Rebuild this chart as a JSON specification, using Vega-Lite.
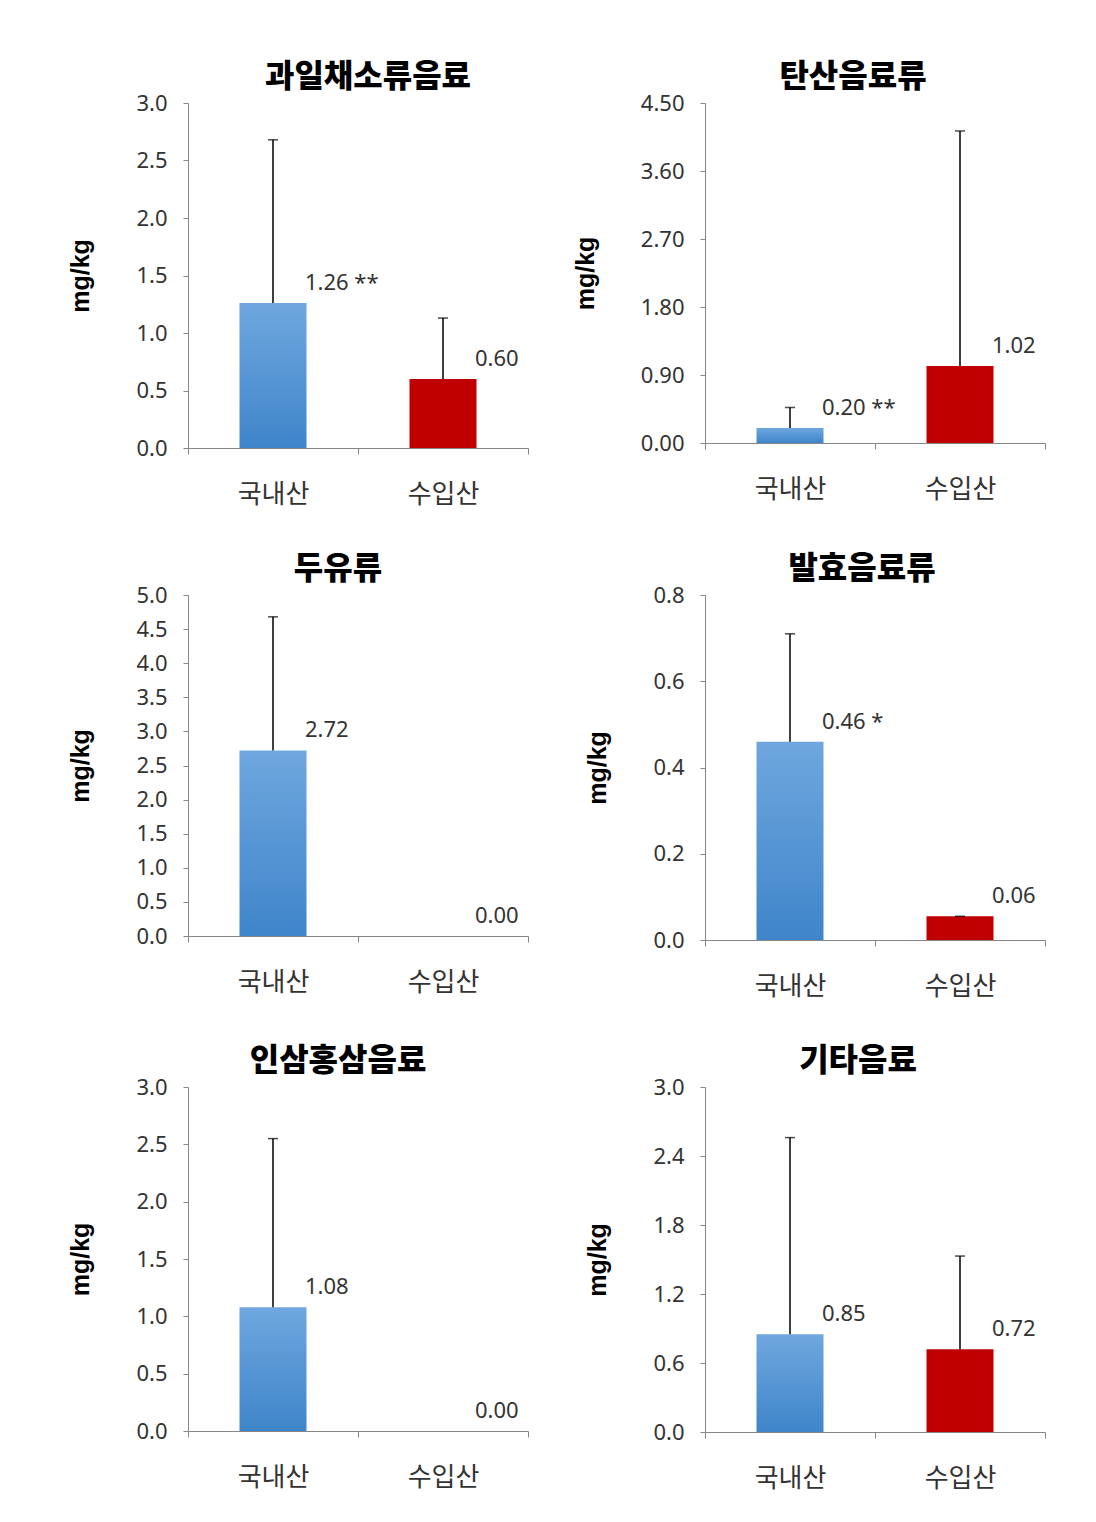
{
  "$schema": "https://vega.github.io/schema/vega-lite/v6.json",
  "padding": {"left": 68, "top": 61, "right": 5, "bottom": 5},
  "background": "white",
  "datasets": {
    "beverages": [
      {"panel": "과일채소류음료", "origin": "국내산", "mean": 1.26, "upper": 2.68, "label": "1.26 **"},
      {"panel": "과일채소류음료", "origin": "수입산", "mean": 0.60, "upper": 1.13, "label": "0.60"},
      {"panel": "탄산음료류", "origin": "국내산", "mean": 0.20, "upper": 0.47, "label": "0.20 **"},
      {"panel": "탄산음료류", "origin": "수입산", "mean": 1.02, "upper": 4.13, "label": "1.02"},
      {"panel": "두유류", "origin": "국내산", "mean": 2.72, "upper": 4.68, "label": "2.72"},
      {"panel": "두유류", "origin": "수입산", "mean": 0.0, "upper": null, "label": "0.00"},
      {"panel": "발효음료류", "origin": "국내산", "mean": 0.46, "upper": 0.71, "label": "0.46 *"},
      {"panel": "발효음료류", "origin": "수입산", "mean": 0.055, "upper": 0.055, "label": "0.06"},
      {"panel": "인삼홍삼음료", "origin": "국내산", "mean": 1.08, "upper": 2.55, "label": "1.08"},
      {"panel": "인삼홍삼음료", "origin": "수입산", "mean": 0.0, "upper": null, "label": "0.00"},
      {"panel": "기타음료", "origin": "국내산", "mean": 0.85, "upper": 2.56, "label": "0.85"},
      {"panel": "기타음료", "origin": "수입산", "mean": 0.72, "upper": 1.53, "label": "0.72"}
    ]
  },
  "data": {"name": "beverages"},
  "columns": 2,
  "spacing": {"row": 46, "column": 44},
  "concat": [
    {
      "title": {"text": "과일채소류음료", "dx": 10},
      "width": 340, "height": 345,
      "transform": [{"filter": "datum.panel === '과일채소류음료'"}],
      "encoding": {"x": {"field": "origin", "type": "nominal", "sort": ["국내산", "수입산"], "scale": {"paddingInner": 0, "paddingOuter": 0}, "axis": {"title": null}}},
      "layer": [
        {"transform": [{"filter": "datum.origin === '국내산'"}], "mark": {"type": "bar", "size": 67, "color": {"gradient": "linear", "x1": 0, "y1": 0, "x2": 0, "y2": 1, "stops": [{"offset": 0, "color": "#6FA7DE"}, {"offset": 1, "color": "#3F85CA"}]}},
         "encoding": {"y": {"field": "mean", "type": "quantitative", "scale": {"domain": [0, 3], "nice": false}, "axis": {"title": "mg/kg", "values": [0, 0.5, 1, 1.5, 2, 2.5, 3], "tickCount": 20, "format": ".1f", "labelOverlap": false}}}},
        {"transform": [{"filter": "datum.origin === '수입산'"}], "mark": {"type": "bar", "size": 67, "color": "#C00000"},
         "encoding": {"y": {"field": "mean", "type": "quantitative", "scale": {"domain": [0, 3], "nice": false}}}},
        {"transform": [{"filter": "isValid(datum.upper)"}], "mark": {"type": "rule", "color": "black", "strokeWidth": 1.5},
         "encoding": {"y": {"field": "mean", "type": "quantitative", "scale": {"domain": [0, 3], "nice": false}}, "y2": {"field": "upper"}}},
        {"transform": [{"filter": "isValid(datum.upper)"}], "mark": {"type": "tick", "color": "black", "size": 10, "thickness": 1.5},
         "encoding": {"y": {"field": "upper", "type": "quantitative", "scale": {"domain": [0, 3], "nice": false}}}},
        {"mark": {"type": "text", "align": "left", "baseline": "middle", "dx": 32, "dy": -20, "fontSize": 22, "color": "#333333"},
         "encoding": {"y": {"field": "mean", "type": "quantitative", "scale": {"domain": [0, 3], "nice": false}}, "text": {"field": "label"}}}
      ]
    },
    {
      "title": {"text": "탄산음료류", "dx": -22},
      "width": 340, "height": 340,
      "transform": [{"filter": "datum.panel === '탄산음료류'"}],
      "encoding": {"x": {"field": "origin", "type": "nominal", "sort": ["국내산", "수입산"], "scale": {"paddingInner": 0, "paddingOuter": 0}, "axis": {"title": null}}},
      "layer": [
        {"transform": [{"filter": "datum.origin === '국내산'"}], "mark": {"type": "bar", "size": 67, "color": {"gradient": "linear", "x1": 0, "y1": 0, "x2": 0, "y2": 1, "stops": [{"offset": 0, "color": "#6FA7DE"}, {"offset": 1, "color": "#3F85CA"}]}},
         "encoding": {"y": {"field": "mean", "type": "quantitative", "scale": {"domain": [0, 4.5], "nice": false}, "axis": {"title": "mg/kg", "values": [0, 0.9, 1.8, 2.7, 3.6, 4.5], "tickCount": 20, "format": ".2f", "labelOverlap": false}}}},
        {"transform": [{"filter": "datum.origin === '수입산'"}], "mark": {"type": "bar", "size": 67, "color": "#C00000"},
         "encoding": {"y": {"field": "mean", "type": "quantitative", "scale": {"domain": [0, 4.5], "nice": false}}}},
        {"transform": [{"filter": "isValid(datum.upper)"}], "mark": {"type": "rule", "color": "black", "strokeWidth": 1.5},
         "encoding": {"y": {"field": "mean", "type": "quantitative", "scale": {"domain": [0, 4.5], "nice": false}}, "y2": {"field": "upper"}}},
        {"transform": [{"filter": "isValid(datum.upper)"}], "mark": {"type": "tick", "color": "black", "size": 10, "thickness": 1.5},
         "encoding": {"y": {"field": "upper", "type": "quantitative", "scale": {"domain": [0, 4.5], "nice": false}}}},
        {"mark": {"type": "text", "align": "left", "baseline": "middle", "dx": 32, "dy": -20, "fontSize": 22, "color": "#333333"},
         "encoding": {"y": {"field": "mean", "type": "quantitative", "scale": {"domain": [0, 4.5], "nice": false}}, "text": {"field": "label"}}}
      ]
    },
    {
      "title": {"text": "두유류", "dx": -20},
      "width": 340, "height": 341,
      "transform": [{"filter": "datum.panel === '두유류'"}],
      "encoding": {"x": {"field": "origin", "type": "nominal", "sort": ["국내산", "수입산"], "scale": {"paddingInner": 0, "paddingOuter": 0}, "axis": {"title": null}}},
      "layer": [
        {"transform": [{"filter": "datum.origin === '국내산'"}], "mark": {"type": "bar", "size": 67, "color": {"gradient": "linear", "x1": 0, "y1": 0, "x2": 0, "y2": 1, "stops": [{"offset": 0, "color": "#6FA7DE"}, {"offset": 1, "color": "#3F85CA"}]}},
         "encoding": {"y": {"field": "mean", "type": "quantitative", "scale": {"domain": [0, 5], "nice": false}, "axis": {"title": "mg/kg", "values": [0, 0.5, 1, 1.5, 2, 2.5, 3, 3.5, 4, 4.5, 5], "tickCount": 20, "format": ".1f", "labelOverlap": false}}}},
        {"transform": [{"filter": "datum.origin === '수입산'"}], "mark": {"type": "bar", "size": 67, "color": "#C00000"},
         "encoding": {"y": {"field": "mean", "type": "quantitative", "scale": {"domain": [0, 5], "nice": false}}}},
        {"transform": [{"filter": "isValid(datum.upper)"}], "mark": {"type": "rule", "color": "black", "strokeWidth": 1.5},
         "encoding": {"y": {"field": "mean", "type": "quantitative", "scale": {"domain": [0, 5], "nice": false}}, "y2": {"field": "upper"}}},
        {"transform": [{"filter": "isValid(datum.upper)"}], "mark": {"type": "tick", "color": "black", "size": 10, "thickness": 1.5},
         "encoding": {"y": {"field": "upper", "type": "quantitative", "scale": {"domain": [0, 5], "nice": false}}}},
        {"mark": {"type": "text", "align": "left", "baseline": "middle", "dx": 32, "dy": -20, "fontSize": 22, "color": "#333333"},
         "encoding": {"y": {"field": "mean", "type": "quantitative", "scale": {"domain": [0, 5], "nice": false}}, "text": {"field": "label"}}}
      ]
    },
    {
      "title": {"text": "발효음료류", "dx": -13},
      "width": 340, "height": 345,
      "transform": [{"filter": "datum.panel === '발효음료류'"}],
      "encoding": {"x": {"field": "origin", "type": "nominal", "sort": ["국내산", "수입산"], "scale": {"paddingInner": 0, "paddingOuter": 0}, "axis": {"title": null}}},
      "layer": [
        {"transform": [{"filter": "datum.origin === '국내산'"}], "mark": {"type": "bar", "size": 67, "color": {"gradient": "linear", "x1": 0, "y1": 0, "x2": 0, "y2": 1, "stops": [{"offset": 0, "color": "#6FA7DE"}, {"offset": 1, "color": "#3F85CA"}]}},
         "encoding": {"y": {"field": "mean", "type": "quantitative", "scale": {"domain": [0, 0.8], "nice": false}, "axis": {"title": "mg/kg", "values": [0, 0.2, 0.4, 0.6, 0.8], "tickCount": 20, "format": ".1f", "labelOverlap": false}}}},
        {"transform": [{"filter": "datum.origin === '수입산'"}], "mark": {"type": "bar", "size": 67, "color": "#C00000"},
         "encoding": {"y": {"field": "mean", "type": "quantitative", "scale": {"domain": [0, 0.8], "nice": false}}}},
        {"transform": [{"filter": "isValid(datum.upper)"}], "mark": {"type": "rule", "color": "black", "strokeWidth": 1.5},
         "encoding": {"y": {"field": "mean", "type": "quantitative", "scale": {"domain": [0, 0.8], "nice": false}}, "y2": {"field": "upper"}}},
        {"transform": [{"filter": "isValid(datum.upper)"}], "mark": {"type": "tick", "color": "black", "size": 10, "thickness": 1.5},
         "encoding": {"y": {"field": "upper", "type": "quantitative", "scale": {"domain": [0, 0.8], "nice": false}}}},
        {"mark": {"type": "text", "align": "left", "baseline": "middle", "dx": 32, "dy": -20, "fontSize": 22, "color": "#333333"},
         "encoding": {"y": {"field": "mean", "type": "quantitative", "scale": {"domain": [0, 0.8], "nice": false}}, "text": {"field": "label"}}}
      ]
    },
    {
      "title": {"text": "인삼홍삼음료", "dx": -20},
      "width": 340, "height": 344,
      "transform": [{"filter": "datum.panel === '인삼홍삼음료'"}],
      "encoding": {"x": {"field": "origin", "type": "nominal", "sort": ["국내산", "수입산"], "scale": {"paddingInner": 0, "paddingOuter": 0}, "axis": {"title": null}}},
      "layer": [
        {"transform": [{"filter": "datum.origin === '국내산'"}], "mark": {"type": "bar", "size": 67, "color": {"gradient": "linear", "x1": 0, "y1": 0, "x2": 0, "y2": 1, "stops": [{"offset": 0, "color": "#6FA7DE"}, {"offset": 1, "color": "#3F85CA"}]}},
         "encoding": {"y": {"field": "mean", "type": "quantitative", "scale": {"domain": [0, 3], "nice": false}, "axis": {"title": "mg/kg", "values": [0, 0.5, 1, 1.5, 2, 2.5, 3], "tickCount": 20, "format": ".1f", "labelOverlap": false}}}},
        {"transform": [{"filter": "datum.origin === '수입산'"}], "mark": {"type": "bar", "size": 67, "color": "#C00000"},
         "encoding": {"y": {"field": "mean", "type": "quantitative", "scale": {"domain": [0, 3], "nice": false}}}},
        {"transform": [{"filter": "isValid(datum.upper)"}], "mark": {"type": "rule", "color": "black", "strokeWidth": 1.5},
         "encoding": {"y": {"field": "mean", "type": "quantitative", "scale": {"domain": [0, 3], "nice": false}}, "y2": {"field": "upper"}}},
        {"transform": [{"filter": "isValid(datum.upper)"}], "mark": {"type": "tick", "color": "black", "size": 10, "thickness": 1.5},
         "encoding": {"y": {"field": "upper", "type": "quantitative", "scale": {"domain": [0, 3], "nice": false}}}},
        {"mark": {"type": "text", "align": "left", "baseline": "middle", "dx": 32, "dy": -20, "fontSize": 22, "color": "#333333"},
         "encoding": {"y": {"field": "mean", "type": "quantitative", "scale": {"domain": [0, 3], "nice": false}}, "text": {"field": "label"}}}
      ]
    },
    {
      "title": {"text": "기타음료", "dx": -17},
      "width": 340, "height": 345,
      "transform": [{"filter": "datum.panel === '기타음료'"}],
      "encoding": {"x": {"field": "origin", "type": "nominal", "sort": ["국내산", "수입산"], "scale": {"paddingInner": 0, "paddingOuter": 0}, "axis": {"title": null}}},
      "layer": [
        {"transform": [{"filter": "datum.origin === '국내산'"}], "mark": {"type": "bar", "size": 67, "color": {"gradient": "linear", "x1": 0, "y1": 0, "x2": 0, "y2": 1, "stops": [{"offset": 0, "color": "#6FA7DE"}, {"offset": 1, "color": "#3F85CA"}]}},
         "encoding": {"y": {"field": "mean", "type": "quantitative", "scale": {"domain": [0, 3], "nice": false}, "axis": {"title": "mg/kg", "values": [0, 0.6, 1.2, 1.8, 2.4, 3], "tickCount": 20, "format": ".1f", "labelOverlap": false}}}},
        {"transform": [{"filter": "datum.origin === '수입산'"}], "mark": {"type": "bar", "size": 67, "color": "#C00000"},
         "encoding": {"y": {"field": "mean", "type": "quantitative", "scale": {"domain": [0, 3], "nice": false}}}},
        {"transform": [{"filter": "isValid(datum.upper)"}], "mark": {"type": "rule", "color": "black", "strokeWidth": 1.5},
         "encoding": {"y": {"field": "mean", "type": "quantitative", "scale": {"domain": [0, 3], "nice": false}}, "y2": {"field": "upper"}}},
        {"transform": [{"filter": "isValid(datum.upper)"}], "mark": {"type": "tick", "color": "black", "size": 10, "thickness": 1.5},
         "encoding": {"y": {"field": "upper", "type": "quantitative", "scale": {"domain": [0, 3], "nice": false}}}},
        {"mark": {"type": "text", "align": "left", "baseline": "middle", "dx": 32, "dy": -20, "fontSize": 22, "color": "#333333"},
         "encoding": {"y": {"field": "mean", "type": "quantitative", "scale": {"domain": [0, 3], "nice": false}}, "text": {"field": "label"}}}
      ]
    }
  ],
  "config": {
    "view": {"stroke": null},
    "font": "Noto Sans, Noto Sans CJK KR",
    "text": {"font": "Noto Sans, Noto Sans CJK KR"},
    "axis": {"domainColor": "#868686", "tickColor": "#868686", "labelColor": "#333333", "grid": false, "labelFont": "Noto Sans, Noto Sans CJK KR", "labelOverlap": false},
    "axisY": {"labelFontSize": 22, "tickSize": 5, "labelPadding": 16, "titleFont": "Liberation Sans", "titleFontSize": 25, "titleFontWeight": "bold", "titleColor": "black", "titlePadding": 42},
    "axisX": {"labelFontSize": 26, "labelFont": "Noto Sans CJK KR", "labelPadding": 27, "tickSize": 6, "labelAngle": 0, "tickBand": "extent"},
    "title": {"fontSize": 32, "fontWeight": 900, "font": "Noto Sans CJK KR", "color": "black", "anchor": "middle", "offset": -2}
  }
}
